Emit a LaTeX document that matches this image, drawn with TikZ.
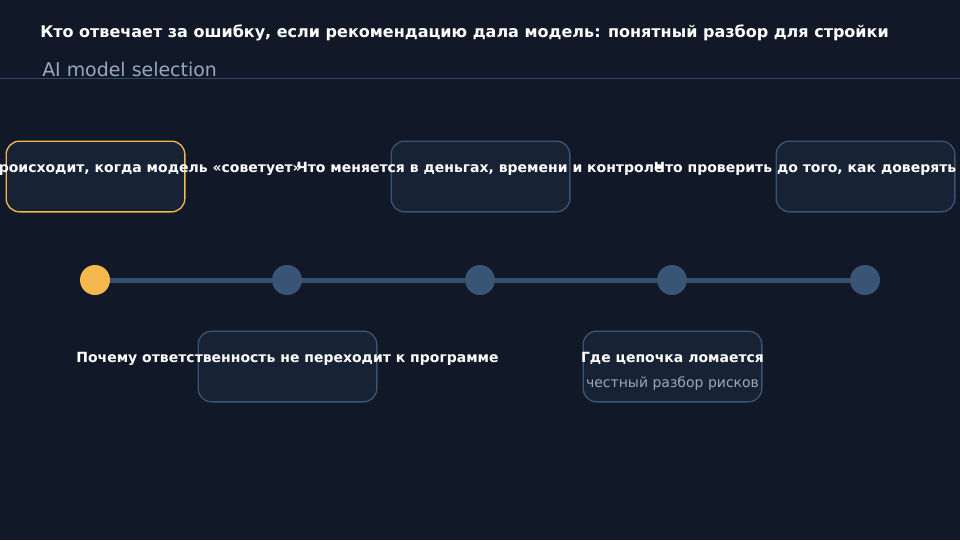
\documentclass[tikz,border=0pt]{standalone}
\usepackage{fontspec}
\setmainfont{DejaVu Sans}
\definecolor{bg}{HTML}{111827}
\definecolor{boxfill}{HTML}{172235}
\definecolor{edge}{HTML}{3A5475}
\definecolor{rail}{HTML}{34506F}
\definecolor{accent}{HTML}{F5B84F}
\definecolor{muted}{HTML}{9AA8BB}
\definecolor{rule}{HTML}{2F4A6A}

\begin{document}
\begin{tikzpicture}[x=0.75pt,y=-0.75pt]
  \tikzset{card/.style={draw=edge,fill=boxfill,line width=1pt,rounded corners=10pt,minimum width=134pt,minimum height=53pt,inner sep=0pt},
           hot/.style={draw=accent},
           dot/.style={circle,fill=edge,minimum size=22.5pt,inner sep=0pt},
           lbl/.style={anchor=base,text=white,font=\fontsize{10.5}{13}\selectfont\bfseries,inner sep=0pt},
           sub/.style={anchor=base,text=muted,font=\fontsize{10.5}{13}\selectfont,inner sep=0pt}}
  \fill[bg] (0,0) rectangle (960,540);
  \useasboundingbox (0,0) rectangle (960,540);
  \node[anchor=base west,text=white,font=\fontsize{12}{14}\selectfont\bfseries,inner sep=0pt] (title) at (40,37) {Кто отвечает за ошибку, если рекомендацию дала модель: понятный разбор для стройки};
  \node[anchor=base west,text=muted,font=\fontsize{14.2}{17}\selectfont,inner sep=0pt] (subtitle) at (42,76) {AI model selection};
  \coordinate (ruleL) at (0,78);
  \coordinate (ruleR) at (960,78);
  \draw[rule,line width=0.75pt] (ruleL) -- (ruleR);

  % cards
  \node[card,hot] (b1) at (95.5,176.5) {};
  \node[card]     (b2) at (287.5,366.5) {};
  \node[card]     (b3) at (480.5,176.5) {};
  \node[card]     (b4) at (672.5,366.5) {};
  \node[card]     (b5) at (865.5,176.5) {};
  \node[lbl] (t1) at (128.5,172) {Что происходит, когда модель «советует»};
  \node[lbl] (t2) at (287.5,362) {Почему ответственность не переходит к программе};
  \node[lbl] (t3) at (480,172) {Что меняется в деньгах, времени и контроле};
  \node[lbl] (t4) at (672.5,362) {Где цепочка ломается};
  \node[sub] (s4) at (672.5,387) {честный разбор рисков};
  \node[lbl] (t5) at (805,172) {Что проверить до того, как доверять};

  % timeline
  \node[dot,fill=accent] (c1) at (95,280) {};
  \node[dot] (c2) at (287,280) {};
  \node[dot] (c3) at (480,280) {};
  \node[dot] (c4) at (672,280) {};
  \node[dot] (c5) at (865,280) {};
  \foreach \a/\b in {c1/c2,c2/c3,c3/c4,c4/c5}
    \draw[rail,line width=3.75pt] (\a.east) -- (\b.west);
\end{tikzpicture}
\end{document}
